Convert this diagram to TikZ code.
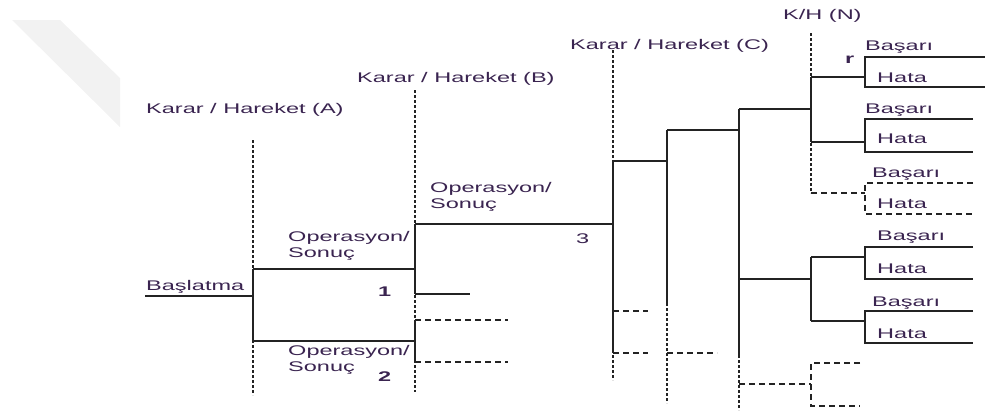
\documentclass[tikz,border=0pt]{standalone}
\usepackage{fontspec}
\newfontfamily\labfont[FakeStretch=1.68]{Liberation Sans}
\begin{document}
\begin{tikzpicture}[x=1pt,y=-1pt,
  lbl/.style={inner sep=0pt,anchor=base west,text=labc,align=left,
    font=\labfont\fontsize{14}{15.5}\selectfont},
  num/.style={lbl,font=\labfont\bfseries\fontsize{14}{15.5}\selectfont},
  branch/.style={draw=linec,line width=1.2pt},
  ghost/.style={draw=linec,line width=1.1pt,dash pattern=on 6pt off 4pt},
  guide/.style={draw=linec,line width=1.6pt,dash pattern=on 3pt off 2pt}]
\definecolor{labc}{RGB}{58,36,80}
\definecolor{linec}{RGB}{35,35,35}
\useasboundingbox (0,0) rectangle (985,410);

% faint corner mark
\fill[gray!10] (12,20) -- (60,20) -- (120,78) -- (120,127) -- cycle;

% ---- decision stage guides ----
\coordinate (gAt) at (253,140); \coordinate (gAb) at (253,395);
\coordinate (gBt) at (415,90);  \coordinate (gBb) at (415,392);
\coordinate (gCt) at (613,50);  \coordinate (gCb) at (613,380);
\coordinate (gDt) at (667,303); \coordinate (gDb) at (667,403);
\coordinate (gEt) at (739,355); \coordinate (gEb) at (739,410);
\coordinate (gNt) at (811,33);  \coordinate (gNb) at (811,193);
\draw[guide] (gAt) -- (gAb);
\draw[guide] (gBt) -- (gBb);
\draw[guide] (gCt) -- (gCb);
\draw[guide] (gDt) -- (gDb);
\draw[guide] (gEt) -- (gEb);
\draw[guide] (gNt) -- (gNb);

\node[lbl] (hA) at (146,113) {Karar / Hareket (A)};
\node[lbl] (hB) at (357,82)  {Karar / Hareket (B)};
\node[lbl] (hC) at (570,49)  {Karar / Hareket (C)};
\node[lbl] (hN) at (783,19)  {K/H (N)};

% ---- stage A ----
\coordinate (s0) at (145,296);
\coordinate (a0) at (253,296);
\coordinate (a1) at (253,269); \coordinate (a2) at (253,341);
\coordinate (b1) at (415,269); \coordinate (b2) at (415,341);
\node[lbl] (start) at (146,290) {Başlatma};
\draw[branch] (s0) -- (a0);
\draw[branch] (a1) -- (a2);
\draw[branch] (a1) -- (b1);
\draw[branch] (a2) -- (b2);
% two-line labels: the anchor sits on the baseline of the last line
\node[lbl] (opA1) at (288,257) {Operasyon/\\Sonuç};
\node[lbl] (opA2) at (288,371) {Operasyon/\\Sonuç};
\node[num] (n1) at (378,296) {1};
\node[num] (n2) at (378,381) {2};

% ---- stage B ----
\coordinate (b1u) at (415,224); \coordinate (b1d) at (415,294);
\coordinate (c0) at (613,224);  \coordinate (b1e) at (470,294);
\draw[branch] (b1u) -- (b1d);
\draw[branch] (b1u) -- (c0);
\draw[branch] (b1d) -- (b1e);
\coordinate (b2u) at (415,320); \coordinate (b2d) at (415,362);
\coordinate (b2ue) at (508,320); \coordinate (b2de) at (508,362);
\draw[branch] (b2u) -- (b2d);
\draw[ghost] (b2u) -- (b2ue);
\draw[ghost] (b2d) -- (b2de);
\node[lbl] (opB) at (430,208) {Operasyon/\\Sonuç};
\node[lbl] (n3) at (576,243) {3};

% ---- stage C ----
\coordinate (cu) at (613,161); \coordinate (cd) at (613,353);
\coordinate (d0) at (667,161);
\coordinate (cg1) at (613,311); \coordinate (cg1e) at (648,311);
\coordinate (cg2e) at (648,353);
\draw[branch] (cu) -- (cd);
\draw[branch] (cu) -- (d0);
\draw[ghost] (cg1) -- (cg1e);
\draw[ghost] (cd) -- (cg2e);

% ---- intermediate stages ----
\coordinate (du) at (667,130); \coordinate (e0) at (739,130);
\coordinate (dg) at (667,353); \coordinate (dge) at (717,353);
\draw[branch] (du) -- (gDt);
\draw[branch] (du) -- (e0);
\draw[ghost] (dg) -- (dge);
\coordinate (eu) at (739,109); \coordinate (m1) at (811,109);
\coordinate (em) at (739,279); \coordinate (m2) at (811,279);
\coordinate (eg) at (739,384); \coordinate (m3) at (811,384);
\draw[branch] (eu) -- (gEt);
\draw[branch] (eu) -- (m1);
\draw[branch] (em) -- (m2);
\draw[ghost] (eg) -- (m3);

% ---- stage N, first group ----
\coordinate (m1u) at (811,77); \coordinate (m1d) at (811,142);
\coordinate (m1g) at (811,193);
\coordinate (k1) at (865,77); \coordinate (k2) at (865,142);
\coordinate (k3) at (865,193);
\draw[branch] (m1u) -- (m1d);
\draw[branch] (m1u) -- (k1);
\draw[branch] (m1d) -- (k2);
\draw[ghost] (m1g) -- (k3);
\node[num] (r) at (845,63) {r};

% outcome pairs
\coordinate (k1u) at (865,57);  \coordinate (k1d) at (865,87);
\coordinate (k1ue) at (985,57); \coordinate (k1de) at (985,87);
\draw[branch] (k1ue) -- (k1u) -- (k1d) -- (k1de);
\node[lbl] (s1) at (865,50) {Başarı};
\node[lbl] (h1) at (877,82) {Hata};

\coordinate (k2u) at (865,119);  \coordinate (k2d) at (865,152);
\coordinate (k2ue) at (973,119); \coordinate (k2de) at (973,152);
\draw[branch] (k2ue) -- (k2u) -- (k2d) -- (k2de);
\node[lbl] (s2) at (865,113) {Başarı};
\node[lbl] (h2) at (877,143) {Hata};

\coordinate (k3u) at (865,183);  \coordinate (k3d) at (865,214);
\coordinate (k3ue) at (973,183); \coordinate (k3de) at (973,214);
\draw[ghost] (k3ue) -- (k3u) -- (k3d) -- (k3de);
\node[lbl] (s3) at (872,177) {Başarı};
\node[lbl] (h3) at (877,208) {Hata};

% ---- stage N, second group ----
\coordinate (m2u) at (811,257); \coordinate (m2d) at (811,321);
\coordinate (k4) at (865,257); \coordinate (k5) at (865,321);
\draw[branch] (m2u) -- (m2d);
\draw[branch] (m2u) -- (k4);
\draw[branch] (m2d) -- (k5);

\coordinate (k4u) at (865,247);  \coordinate (k4d) at (865,279);
\coordinate (k4ue) at (973,247); \coordinate (k4de) at (973,279);
\draw[branch] (k4ue) -- (k4u) -- (k4d) -- (k4de);
\node[lbl] (s4) at (877,240) {Başarı};
\node[lbl] (h4) at (877,273) {Hata};

\coordinate (k5u) at (865,311);  \coordinate (k5d) at (865,343);
\coordinate (k5ue) at (973,311); \coordinate (k5de) at (973,343);
\draw[branch] (k5ue) -- (k5u) -- (k5d) -- (k5de);
\node[lbl] (s5) at (872,306) {Başarı};
\node[lbl] (h5) at (877,338) {Hata};

% ---- stage N, third group (not taken) ----
\coordinate (m3u) at (811,363); \coordinate (m3d) at (811,406);
\coordinate (m3ue) at (860,363); \coordinate (m3de) at (860,406);
\draw[ghost] (m3ue) -- (m3u) -- (m3d) -- (m3de);
\end{tikzpicture}
\end{document}
